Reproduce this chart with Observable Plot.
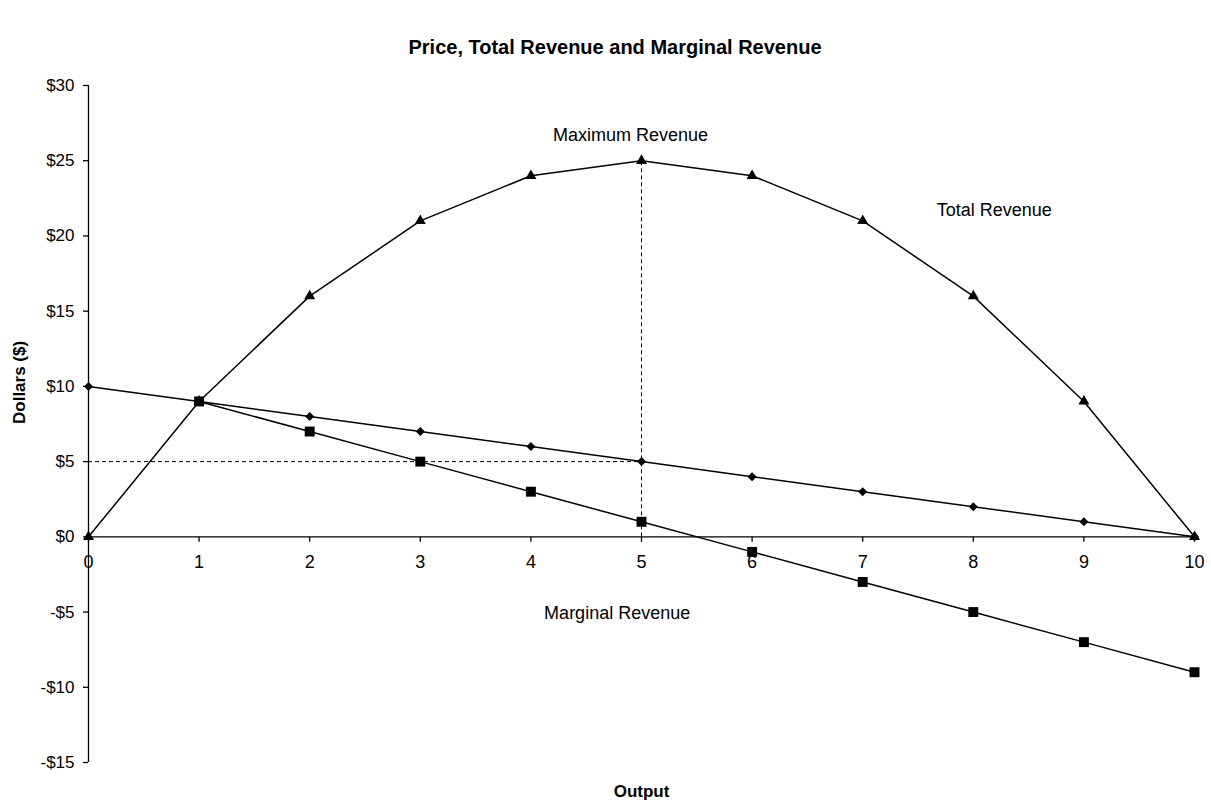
<!DOCTYPE html>
<html>
<head>
<meta charset="utf-8">
<script src="https://cdn.jsdelivr.net/npm/d3@7"></script>
<script src="https://cdn.jsdelivr.net/npm/@observablehq/plot@0.6"></script>
<style>
  body { margin: 0; background: #fff; font-family: "Liberation Sans", Arial, sans-serif; }
  #title { width: 1211px; height: 70px; box-sizing: border-box; padding-top: 36px; padding-left: 19px;
           text-align: center; font: bold 20px "Liberation Sans", Arial, sans-serif; line-height: 22px; color: #000; }
  svg { display: block; }
</style>
</head>
<body>
<div id="title">Price, Total Revenue and Marginal Revenue</div>
<div id="chart"></div>
<script>
// Data
const output = [0, 1, 2, 3, 4, 5, 6, 7, 8, 9, 10];
const price = [10, 9, 8, 7, 6, 5, 4, 3, 2, 1, 0];
const totalRevenue = [0, 9, 16, 21, 24, 25, 24, 21, 16, 9, 0];
const mrOutput = [1, 2, 3, 4, 5, 6, 7, 8, 9, 10];
const marginalRevenue = [9, 7, 5, 3, 1, -1, -3, -5, -7, -9];
const yTicks = [-15, -10, -5, 0, 5, 10, 15, 20, 25, 30];
const xTicks = [0, 1, 2, 3, 4, 5, 6, 7, 8, 9, 10];
const annotations = [
  {label: "Maximum Revenue", x: 4.9, y: 26.7},
  {label: "Total Revenue", x: 8.19, y: 21.7},
  {label: "Marginal Revenue", x: 4.78, y: -5.05}
];
const maxPoint = {q: 5, price: 5, tr: 25};

const priceData = output.map((q, i) => ({q, v: price[i]}));
const trData = output.map((q, i) => ({q, v: totalRevenue[i]}));
const mrData = mrOutput.map((q, i) => ({q, v: marginalRevenue[i]}));

const tickSymbol = {draw(ctx) { ctx.moveTo(0, 0); ctx.lineTo(0, 5); }};
const fmt = d => d < 0 ? "-$" + Math.abs(d) : "$" + d;

const chart = Plot.plot({
  width: 1211,
  height: 734,
  marginTop: 15,
  marginLeft: 88,
  marginRight: 17,
  marginBottom: 42,
  style: {fontFamily: "'Liberation Sans', Arial, sans-serif", background: "#fff", color: "#000"},
  x: {domain: [0, 10], axis: null},
  y: {domain: [-15, 30], axis: null},
  marks: [
    // guides
    Plot.ruleX([0], {y1: -15, y2: 30, stroke: "black", strokeWidth: 1.3}),
    Plot.ruleY([0], {x1: 0, x2: 10, stroke: "black", strokeWidth: 1.3}),
    Plot.axisY({ticks: yTicks, tickSize: 5, tickPadding: 9, tickFormat: fmt, fontSize: 17, strokeWidth: 1.3}),
    Plot.dot(xTicks, {x: d => d, y: 0, symbol: tickSymbol, fill: "none", stroke: "black", strokeWidth: 1.3}),
    Plot.text(xTicks, {x: d => d, y: 0, dy: 25, text: d => String(d), fontSize: 18}),
    // dashed guide lines
    Plot.ruleX([maxPoint], {x: "q", y1: 0, y2: "tr", stroke: "black", strokeDasharray: "4,3", strokeWidth: 1}),
    Plot.ruleY([maxPoint], {y: "price", x1: 0, x2: "q", stroke: "black", strokeDasharray: "4,3", strokeWidth: 1}),
    // series
    Plot.line(trData, {x: "q", y: "v", stroke: "black", strokeWidth: 1.5}),
    Plot.line(priceData, {x: "q", y: "v", stroke: "black", strokeWidth: 1.5}),
    Plot.line(mrData, {x: "q", y: "v", stroke: "black", strokeWidth: 1.5}),
    Plot.dot(trData, {x: "q", y: "v", symbol: "triangle", r: 4.1, fill: "black"}),
    Plot.dot(priceData, {x: "q", y: "v", symbol: "diamond2", r: 4.05, fill: "black"}),
    Plot.dot(mrData, {x: "q", y: "v", symbol: "square", r: 5.6, fill: "black"}),
    // annotations
    Plot.text(annotations, {x: "x", y: "y", text: "label", fontSize: 18}),
    // axis titles
    Plot.text(["Output"], {frameAnchor: "bottom", dy: 34, fontSize: 17, fontWeight: "bold"}),
    Plot.text(["Dollars ($)"], {frameAnchor: "left", dx: -69, rotate: -90, fontSize: 17, fontWeight: "bold"})
  ]
});
document.getElementById("chart").appendChild(chart);
</script>
</body>
</html>
